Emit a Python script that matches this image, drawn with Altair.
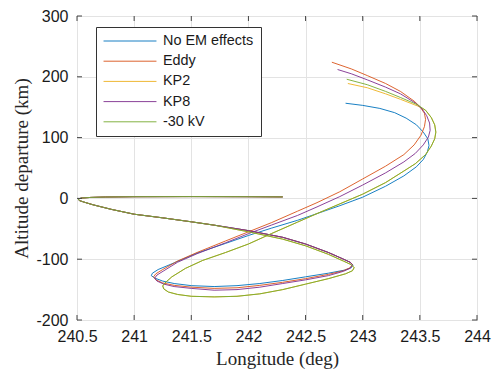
import altair as alt
import pandas as pd

# ---- data ----
series_names = ["No EM effects", "Eddy", "KP2", "KP8", "-30 kV"]
series_colors = ["#0072BD", "#D95319", "#EDB120", "#7E2F8E", "#77AC30"]

start_lon = [242.30, 242.00, 241.50, 241.00, 240.75, 240.62, 240.54, 240.51, 240.52,
             240.56, 240.64, 240.80, 241.00, 241.25, 241.50, 241.70]
start_alt = [2.5, 2.8, 3.0, 2.8, 2.3, 1.6, 0.6, -1.0, -3.5, -6.0, -10.5, -18.0, -26.0,
             -32.0, -38.5, -44.0]

noem_lon = [242.0, 242.3, 242.5, 242.7, 242.82, 242.89, 242.915, 242.9, 242.84, 242.7, 242.5,
            242.3, 242.1, 241.9, 241.7, 241.5, 241.35, 241.25, 241.18, 241.15, 241.16, 241.21,
            241.35, 241.55, 241.8, 242.0, 242.2, 242.43, 242.6, 242.8, 243.0, 243.2, 243.36,
            243.47, 243.53, 243.565, 243.58, 243.57, 243.53, 243.47, 243.38, 243.28, 243.15,
            243.0, 242.85]
noem_alt = [-53, -64, -75, -89, -99, -105, -110, -114, -118, -123, -129, -135, -140, -143.5,
            -145, -143.5, -140, -136, -131, -127, -123, -117, -106, -90, -74, -61, -49, -36,
            -25, -12, 2, 20, 37, 52, 64, 76, 87, 98, 109, 121, 132, 141, 148, 153, 156.5]

eddy_lon = [242.0, 242.3, 242.5, 242.7, 242.82, 242.89, 242.91, 242.89, 242.83, 242.7, 242.5,
            242.3, 242.1, 241.9, 241.7, 241.5, 241.35, 241.25, 241.19, 241.17, 241.19, 241.25,
            241.38, 241.55, 241.8, 242.0, 242.2, 242.43, 242.6, 242.8, 243.0, 243.2, 243.36,
            243.45, 243.51, 243.54, 243.55, 243.54, 243.5, 243.45, 243.33, 243.2, 243.04,
            242.9, 242.73]
eddy_alt = [-53, -64, -75, -89, -99, -105, -109, -114, -119, -125, -132, -138, -143, -147,
            -148, -146, -143, -139, -134, -129, -124, -117, -103, -89, -70, -55, -40, -21, -7,
            11, 32, 53, 72, 88, 104, 118, 130, 140, 151, 160, 176, 189, 202, 213, 224]

kp2_lon = [242.0, 242.3, 242.5, 242.7, 242.83, 242.9, 242.925, 242.91, 242.85, 242.7, 242.5,
           242.3, 242.1, 241.9, 241.7, 241.5, 241.38, 241.3, 241.26, 241.25, 241.27, 241.33,
           241.45, 241.6, 241.8, 242.0, 242.2, 242.43, 242.6, 242.8, 243.0, 243.2, 243.36,
           243.46, 243.55, 243.6, 243.63, 243.64, 243.63, 243.6, 243.55, 243.48, 243.33,
           243.2, 243.04, 242.87]
kp2_alt = [-55, -67, -78, -92, -103, -109, -114, -119, -124, -132, -141, -150, -157, -161,
           -162, -161, -158, -154, -149, -144, -139, -129, -115, -102, -89, -75, -58, -39, -25,
           -9, 7, 26, 45, 57, 72, 86, 98, 109, 121, 133, 145, 152, 163, 172, 182, 189]

kp8_lon = [242.0, 242.3, 242.5, 242.7, 242.82, 242.89, 242.91, 242.89, 242.83, 242.7, 242.5,
           242.3, 242.1, 241.9, 241.7, 241.5, 241.35, 241.26, 241.2, 241.18, 241.2, 241.26,
           241.38, 241.55, 241.8, 242.0, 242.2, 242.43, 242.6, 242.8, 243.0, 243.2, 243.36,
           243.46, 243.53, 243.575, 243.59, 243.585, 243.56, 243.52, 243.46, 243.33, 243.2,
           243.04, 242.9, 242.78]
kp8_alt = [-53, -64, -75, -89, -99, -105, -109, -115, -120, -127, -134, -140, -146, -150,
           -151, -148, -145, -141, -136, -131, -126, -119, -105, -91, -73, -58, -44, -28, -14,
           3, 22, 42, 60, 74, 88, 101, 112, 124, 136, 147, 157, 172, 183, 195, 205, 212]

kv30_lon = [242.0, 242.3, 242.5, 242.7, 242.83, 242.9, 242.925, 242.91, 242.85, 242.7, 242.5,
            242.3, 242.1, 241.9, 241.7, 241.5, 241.38, 241.3, 241.26, 241.25, 241.27, 241.33,
            241.45, 241.6, 241.8, 242.0, 242.2, 242.43, 242.6, 242.8, 243.0, 243.2, 243.36,
            243.46, 243.55, 243.6, 243.63, 243.64, 243.63, 243.6, 243.55, 243.48, 243.33,
            243.2, 243.04, 242.86]
kv30_alt = [-55, -67, -78, -92, -103, -109, -114, -119, -124, -132, -141, -150, -157, -161,
            -162, -161, -158, -154, -149, -144, -139, -129, -115, -102, -89, -75, -58, -39, -25,
            -9, 7, 26, 45, 57, 72, 86, 98, 109, 121, 133, 145, 154, 166, 176, 187, 196]

x_ticks = [240.5, 241, 241.5, 242, 242.5, 243, 243.5, 244]
y_ticks = [-200, -100, 0, 100, 200, 300]

# ---- build table ----
rows = []
for name, lons, alts in zip(series_names,
                            [noem_lon, eddy_lon, kp2_lon, kp8_lon, kv30_lon],
                            [noem_alt, eddy_alt, kp2_alt, kp8_alt, kv30_alt]):
    full_lon = start_lon + lons
    full_alt = start_alt + alts
    for i, (lo, al) in enumerate(zip(full_lon, full_alt)):
        rows.append({"series": name, "i": i, "lon": lo, "alt": al})
df = pd.DataFrame(rows)

W, H = 400, 304
x_scale = alt.Scale(domain=[x_ticks[0], x_ticks[-1]], nice=False, zero=False)
y_scale = alt.Scale(domain=[y_ticks[0], y_ticks[-1]], nice=False, zero=False)

label_font = "Liberation Sans"
title_font = "Liberation Serif"

x_axis = alt.Axis(values=x_ticks, labelExpr="datum.value + ''", grid=True, ticks=False,
                  domain=False, labelFlush=False, labelOverlap=False,
                  labelFont=label_font, labelFontSize=16, labelColor="#1a1a1a",
                  labelPadding=8, title="Longitude (deg)", titleFont=title_font,
                  titleFontSize=19, titleFontWeight="normal", titleColor="#262626",
                  titleY=38, titleBaseline="middle")
y_axis = alt.Axis(values=y_ticks, labelExpr="datum.value + ''", grid=True, ticks=False,
                  domain=False, labelFlush=False, labelOverlap=False,
                  labelFont=label_font, labelFontSize=16, labelColor="#1a1a1a",
                  labelPadding=9, title="Altitude departure (km)", titleFont=title_font,
                  titleFontSize=19, titleFontWeight="normal", titleColor="#262626",
                  titleX=-56, titleY=H / 2, titleBaseline="middle", titleAngle=-90)

X = alt.X("lon:Q", scale=x_scale, axis=x_axis)
Y = alt.Y("alt:Q", scale=y_scale, axis=y_axis)

lines = alt.Chart(df).mark_line(strokeWidth=1.0, opacity=0.9, interpolate="linear").encode(
    x=X,
    y=Y,
    color=alt.Color("series:N",
                    scale=alt.Scale(domain=series_names, range=series_colors),
                    sort=series_names,
                    legend=alt.Legend(title=None, orient="none", legendX=19, legendY=11,
                                      symbolType="stroke", symbolSize=2800,
                                      symbolStrokeWidth=1.0, symbolOpacity=0.9,
                                      clipHeight=14, rowPadding=5.2, labelOffset=6,
                                      labelFont=label_font, labelFontSize=14.4,
                                      labelColor="#1a1a1a", padding=7,
                                      strokeColor="#333333", fillColor="white",
                                      labelLimit=300)),
    order=alt.Order("i:Q"),
)

xt = pd.DataFrame({"lon": x_ticks})
yt = pd.DataFrame({"alt": y_ticks})
tick_col = "#444444"
xb = alt.Chart(xt).mark_rule(color=tick_col, strokeWidth=1).encode(
    x=X, y=alt.value(H), y2=alt.value(H - 5))
xtp = alt.Chart(xt).mark_rule(color=tick_col, strokeWidth=1).encode(
    x=X, y=alt.value(0), y2=alt.value(5))
yl = alt.Chart(yt).mark_rule(color=tick_col, strokeWidth=1).encode(
    y=Y, x=alt.value(0), x2=alt.value(5))
yr = alt.Chart(yt).mark_rule(color=tick_col, strokeWidth=1).encode(
    y=Y, x=alt.value(W), x2=alt.value(W - 5))

chart = alt.layer(lines, xb, xtp, yl, yr).properties(
    width=W, height=H,
    autosize=alt.AutoSizeParams(type="none"),
    padding={"left": 69, "top": 8, "right": 15, "bottom": 52},
).configure_view(stroke="#444444", strokeWidth=1).configure_axis(
    gridColor="#e3e3e3", gridWidth=1, gridOpacity=1)

chart.save("out.html", embed_options={"renderer": "svg", "actions": False})
